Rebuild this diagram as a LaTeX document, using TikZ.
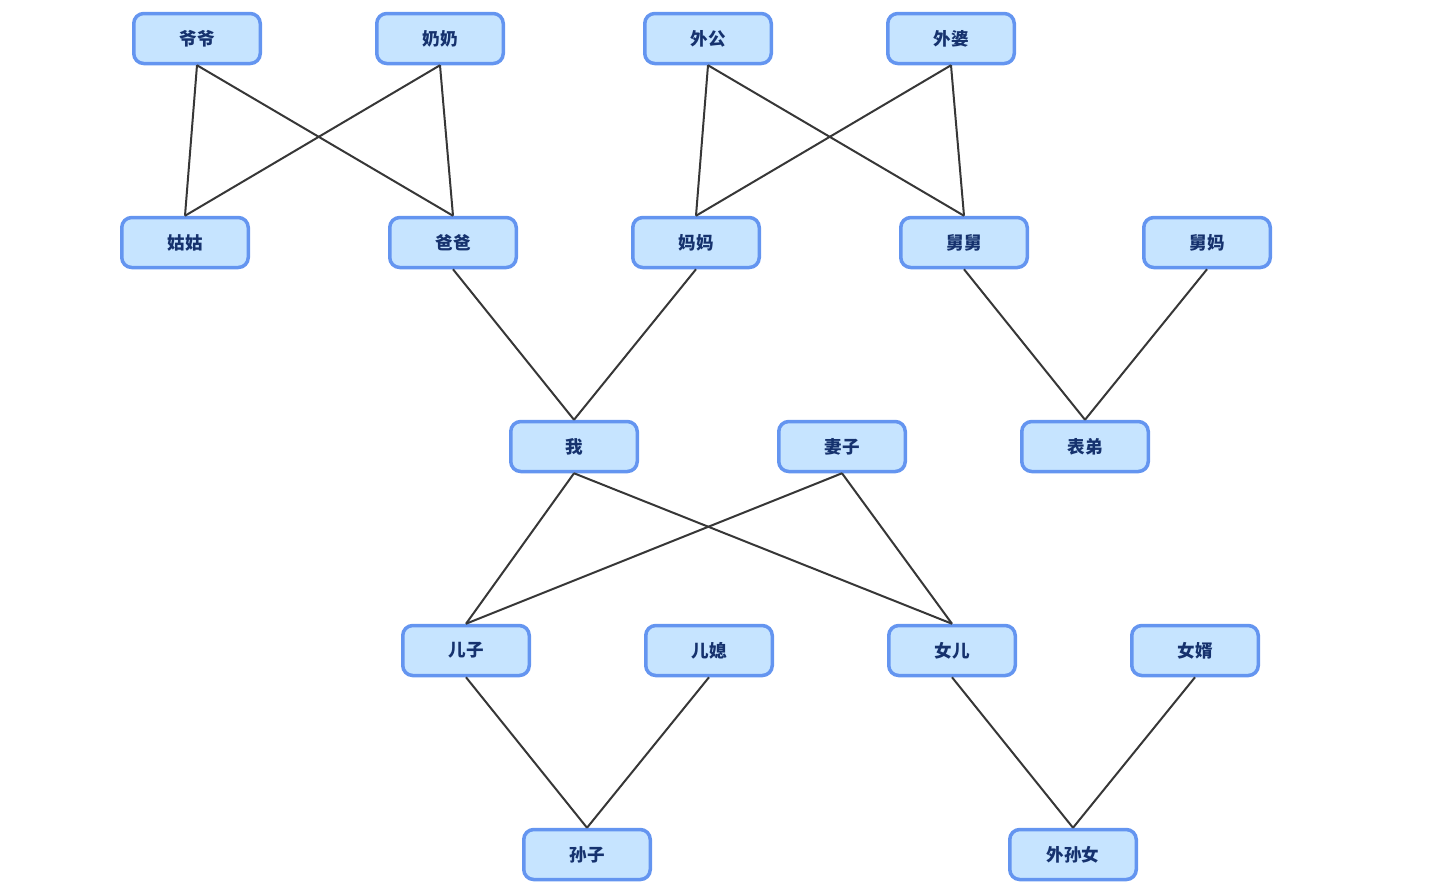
\documentclass[tikz,border=0pt]{standalone}
\usepackage{fontspec}
\newfontfamily\cjk{Noto Sans CJK SC}
\usetikzlibrary{positioning}
\definecolor{boxFill}{RGB}{198, 228, 255}
\definecolor{boxBorder}{RGB}{100, 149, 240}
\definecolor{nameText}{RGB}{22, 50, 110}
\definecolor{linkColor}{RGB}{55, 55, 55}

\begin{document}
\begin{tikzpicture}

% Style definitions
\tikzset{
    person/.style={
        rectangle, draw=boxBorder, fill=boxFill, line width=0.07cm,
        rounded corners=0.2cm, minimum width=2.53cm, minimum height=1.0cm,
        font=\cjk\bfseries\fontsize{10}{12}\selectfont, text=nameText
    },
    link/.style={draw=linkColor, line width=0.04cm}
}

\useasboundingbox (0,0) rectangle (29.02,-17.74);

% Grandparents
\node (yeye) [person] at (3.94,-0.77) {爷爷};
\node (nainai) [person, right=2.26cm of yeye] {奶奶};
\node (waigong) [person, right=2.76cm of nainai] {外公};
\node (waipo) [person, right=2.26cm of waigong] {外婆};

% Parents generation
\node (gugu) [person, below=3.01cm of yeye, xshift=-0.24cm] {姑姑};
\node (baba) [person, right=2.76cm of gugu] {爸爸};
\node (mama) [person, right=2.26cm of baba] {妈妈};
\node (jiujiu) [person, right=2.76cm of mama] {舅舅};
\node (jiuma) [person, right=2.26cm of jiujiu] {舅妈};

% Own generation
\node (wo) [person, below=3.01cm of baba, xshift=2.42cm] {我};
\node (qizi) [person, right=2.76cm of wo] {妻子};
\node (biaodi) [person, right=2.26cm of qizi] {表弟};

% Children
\node (erzi) [person, below=3.01cm of wo, xshift=-2.16cm] {儿子};
\node (erxi) [person, right=2.26cm of erzi] {儿媳};
\node (nver) [person, right=2.26cm of erxi] {女儿};
\node (nvxu) [person, right=2.26cm of nver] {女婿};

% Grandchildren
\node (sunzi) [person, below=3.01cm of erzi, xshift=2.42cm] {孙子};
\node (waisunnv) [person, below=3.01cm of nver, xshift=2.42cm] {外孙女};

% Connections
\draw [link] (yeye.south) -- (gugu.north);
\draw [link] (yeye.south) -- (baba.north);
\draw [link] (nainai.south) -- (gugu.north);
\draw [link] (nainai.south) -- (baba.north);

\draw [link] (waigong.south) -- (mama.north);
\draw [link] (waigong.south) -- (jiujiu.north);
\draw [link] (waipo.south) -- (mama.north);
\draw [link] (waipo.south) -- (jiujiu.north);

\draw [link] (baba.south) -- (wo.north);
\draw [link] (mama.south) -- (wo.north);
\draw [link] (jiujiu.south) -- (biaodi.north);
\draw [link] (jiuma.south) -- (biaodi.north);

\draw [link] (wo.south) -- (erzi.north);
\draw [link] (wo.south) -- (nver.north);
\draw [link] (qizi.south) -- (erzi.north);
\draw [link] (qizi.south) -- (nver.north);

\draw [link] (erzi.south) -- (sunzi.north);
\draw [link] (erxi.south) -- (sunzi.north);
\draw [link] (nver.south) -- (waisunnv.north);
\draw [link] (nvxu.south) -- (waisunnv.north);

\end{tikzpicture}
\end{document}
